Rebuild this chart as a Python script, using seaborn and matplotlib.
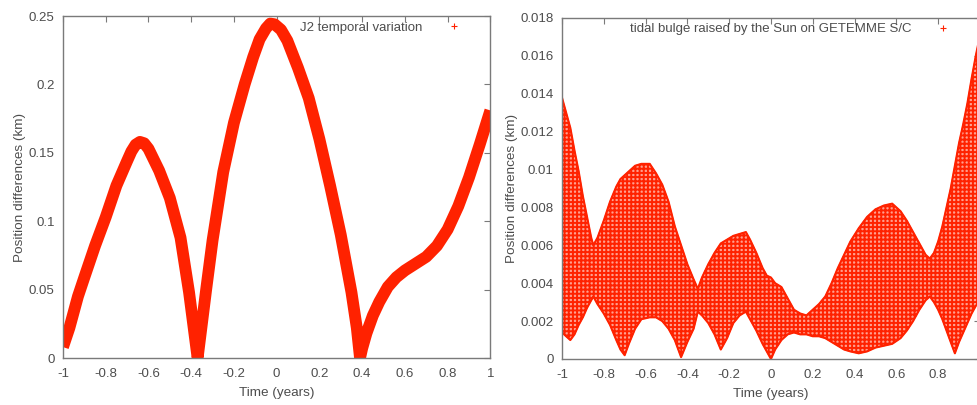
import numpy as np
import pandas as pd
import seaborn as sn
import matplotlib
matplotlib.use('Agg')
import matplotlib.pyplot as plt
from matplotlib.lines import Line2D
from matplotlib.ticker import FormatStrFormatter

# J2 temporal variation (left panel), position differences in km
j2_time = [-1.0, -0.97, -0.93, -0.9, -0.85, -0.8, -0.75, -0.7, -0.68, -0.66, -0.64, -0.62,
           -0.6, -0.55, -0.5, -0.45, -0.41, -0.385, -0.37, -0.35, -0.33, -0.3, -0.25,
           -0.2, -0.15, -0.11, -0.08, -0.05, -0.03, -0.01, 0.02, 0.05, 0.1, 0.15, 0.2,
           0.25, 0.3, 0.35, 0.375, 0.39, 0.4, 0.42, 0.45, 0.48, 0.52, 0.56, 0.6, 0.65,
           0.7, 0.75, 0.8, 0.85, 0.9, 0.95, 1.0]
j2_diff = [0.008, 0.022, 0.045, 0.059, 0.082, 0.103, 0.126, 0.144, 0.151, 0.156, 0.158, 0.157,
           0.153, 0.137, 0.117, 0.088, 0.048, 0.018, 0.0, 0.025, 0.05, 0.086, 0.136,
           0.172, 0.2, 0.22, 0.233, 0.241, 0.2445, 0.244, 0.24, 0.232, 0.212, 0.19, 0.16,
           0.126, 0.09, 0.048, 0.022, 0.0, 0.007, 0.018, 0.031, 0.041, 0.052, 0.059, 0.064, 0.069,
           0.074, 0.082, 0.094, 0.111, 0.132, 0.156, 0.181]

# tidal bulge raised by the Sun (right panel): upper / lower envelope of the point cloud, km
tide_time = [-1.0, -0.98, -0.96, -0.94, -0.92, -0.9, -0.88, -0.86, -0.85, -0.83, -0.8,
             -0.77, -0.74, -0.72, -0.7, -0.68, -0.65, -0.62, -0.58, -0.55, -0.52, -0.49,
             -0.46, -0.43, -0.4, -0.37, -0.35, -0.33, -0.3, -0.27, -0.24, -0.21, -0.18,
             -0.15, -0.12, -0.1, -0.07, -0.04, -0.02, 0.0, 0.02, 0.05, 0.08, 0.11, 0.14,
             0.17, 0.2, 0.23, 0.26, 0.29, 0.32, 0.35, 0.38, 0.42, 0.46, 0.5, 0.54, 0.58,
             0.62, 0.65, 0.68, 0.71, 0.74, 0.76, 0.78, 0.8, 0.82, 0.84, 0.86, 0.88, 0.9,
             0.92, 0.94, 0.96, 0.98, 0.995]
tide_upper = [0.0138, 0.013, 0.0122, 0.011, 0.0099, 0.0086, 0.0075, 0.0064, 0.006, 0.0064, 0.0073,
              0.0083, 0.0091, 0.0095, 0.0097, 0.0099, 0.0102, 0.0103, 0.0103, 0.0098, 0.0092, 0.0083,
              0.007, 0.006, 0.005, 0.0042, 0.0037, 0.0043, 0.005, 0.0056, 0.0061, 0.0063, 0.0065,
              0.0066, 0.0067, 0.0063, 0.0056, 0.0048, 0.0044, 0.0043, 0.004, 0.0038, 0.0032, 0.0026, 0.0024,
              0.0023, 0.0026, 0.0029, 0.0033, 0.004, 0.0048, 0.0055, 0.0062, 0.0069, 0.0075, 0.0079, 0.0081, 0.0082,
              0.0078, 0.0073, 0.0067, 0.0061, 0.0055, 0.0053, 0.0056, 0.0062, 0.007, 0.008, 0.009, 0.0102, 0.0114,
              0.0124, 0.0135, 0.0148, 0.016, 0.0168]
tide_lower = [0.0014, 0.0012, 0.001, 0.0013, 0.0018, 0.0022, 0.0027, 0.0031, 0.0033, 0.0029, 0.0024,
              0.0018, 0.001, 0.0005, 0.0002, 0.0008, 0.0016, 0.0021, 0.0022, 0.0022, 0.002, 0.0016,
              0.001, 0.0001, 0.0009, 0.0016, 0.0025, 0.0023, 0.0019, 0.0013, 0.0005, 0.0011, 0.0019,
              0.0023, 0.0025, 0.0021, 0.0015, 0.0008, 0.0004, 0.0, 0.0005, 0.001, 0.0013, 0.0014, 0.0013,
              0.0013, 0.0012, 0.0012, 0.0011, 0.0009, 0.0007, 0.0005, 0.0004, 0.0003, 0.0004, 0.0006, 0.0007, 0.0008,
              0.0011, 0.0015, 0.002, 0.0026, 0.0031, 0.0033, 0.003, 0.0026, 0.0021, 0.0015, 0.0009, 0.0003, 0.0009,
              0.0014, 0.0019, 0.0024, 0.0028, 0.003]

x_ticks = [-1, -0.8, -0.6, -0.4, -0.2, 0, 0.2, 0.4, 0.6, 0.8, 1]
j2_yticks = [0, 0.05, 0.1, 0.15, 0.2, 0.25]
tide_yticks = [0, 0.002, 0.004, 0.006, 0.008, 0.01, 0.012, 0.014, 0.016, 0.018]

j2_label = 'J2 temporal variation'
tide_label = 'tidal bulge raised by the Sun on GETEMME S/C'

sn.set_style('white')
plt.rcParams['font.family'] = ['Liberation Sans', 'DejaVu Sans']
plt.rcParams['hatch.linewidth'] = 1.4

RED = '#ff2200'
GREY = '#7a7a7a'
TXT = '#4d4d4d'


def style_axes(ax, ylim, yticks, label, anchor_x):
    ax.set_xlim(-1, 1)
    ax.set_ylim(ylim)
    ax.set_xticks(x_ticks)
    ax.set_yticks(yticks)
    ax.xaxis.set_major_formatter(FormatStrFormatter('%g'))
    ax.yaxis.set_major_formatter(FormatStrFormatter('%g'))
    ax.tick_params(direction='in', length=4, width=0.8, color=GREY, labelcolor=TXT,
                   labelsize=9.5, top=True, right=True)
    ax.tick_params(axis='x', pad=7)
    ax.tick_params(axis='y', pad=6)
    for s in ax.spines.values():
        s.set_color(GREY)
        s.set_linewidth(1)
    ax.set_xlabel('Time (years)', color=TXT, fontsize=9.7, labelpad=5)
    ax.set_ylabel('Position differences (km)', color=TXT, fontsize=9.7, labelpad=2)
    handle = Line2D([], [], color=RED, marker='+', linestyle='none', markersize=5, mew=0.8)
    leg = ax.legend([handle], [label], loc='upper right', bbox_to_anchor=(anchor_x, 1.0),
                    borderaxespad=0, frameon=False, markerfirst=False, handletextpad=1.4,
                    fontsize=9.5)
    for t in leg.get_texts():
        t.set_color(TXT)


fig = plt.figure(figsize=(9.78, 4.05), dpi=100)
ax1 = fig.add_axes([0.0644, 0.116, 0.437, 0.8444])
ax2 = fig.add_axes([0.5746, 0.1136, 0.4274, 0.842])

# left: thick band of '+' points, drawn as a heavy line
j2 = pd.DataFrame({'time': j2_time, 'diff': j2_diff})
sn.lineplot(data=j2, x='time', y='diff', ax=ax1, color=RED, lw=8.5, legend=False,
            solid_joinstyle='round', solid_capstyle='butt')
style_axes(ax1, (0, 0.25), j2_yticks, j2_label, 0.958)

# right: dense cloud of points, shown as a cross-hatched envelope
tide = pd.DataFrame({'time': tide_time, 'upper': tide_upper, 'lower': tide_lower})
ax2.fill_between(tide['time'], tide['lower'], tide['upper'], facecolor='#ffa090',
                 edgecolor=RED, hatch='++++', linewidth=0.8)
sn.lineplot(data=tide, x='time', y='upper', ax=ax2, color=RED, lw=1.5, legend=False)
sn.lineplot(data=tide, x='time', y='lower', ax=ax2, color=RED, lw=1.5, legend=False)
style_axes(ax2, (0, 0.018), tide_yticks, tide_label, 0.955)

fig.savefig('out.png', dpi=100)
